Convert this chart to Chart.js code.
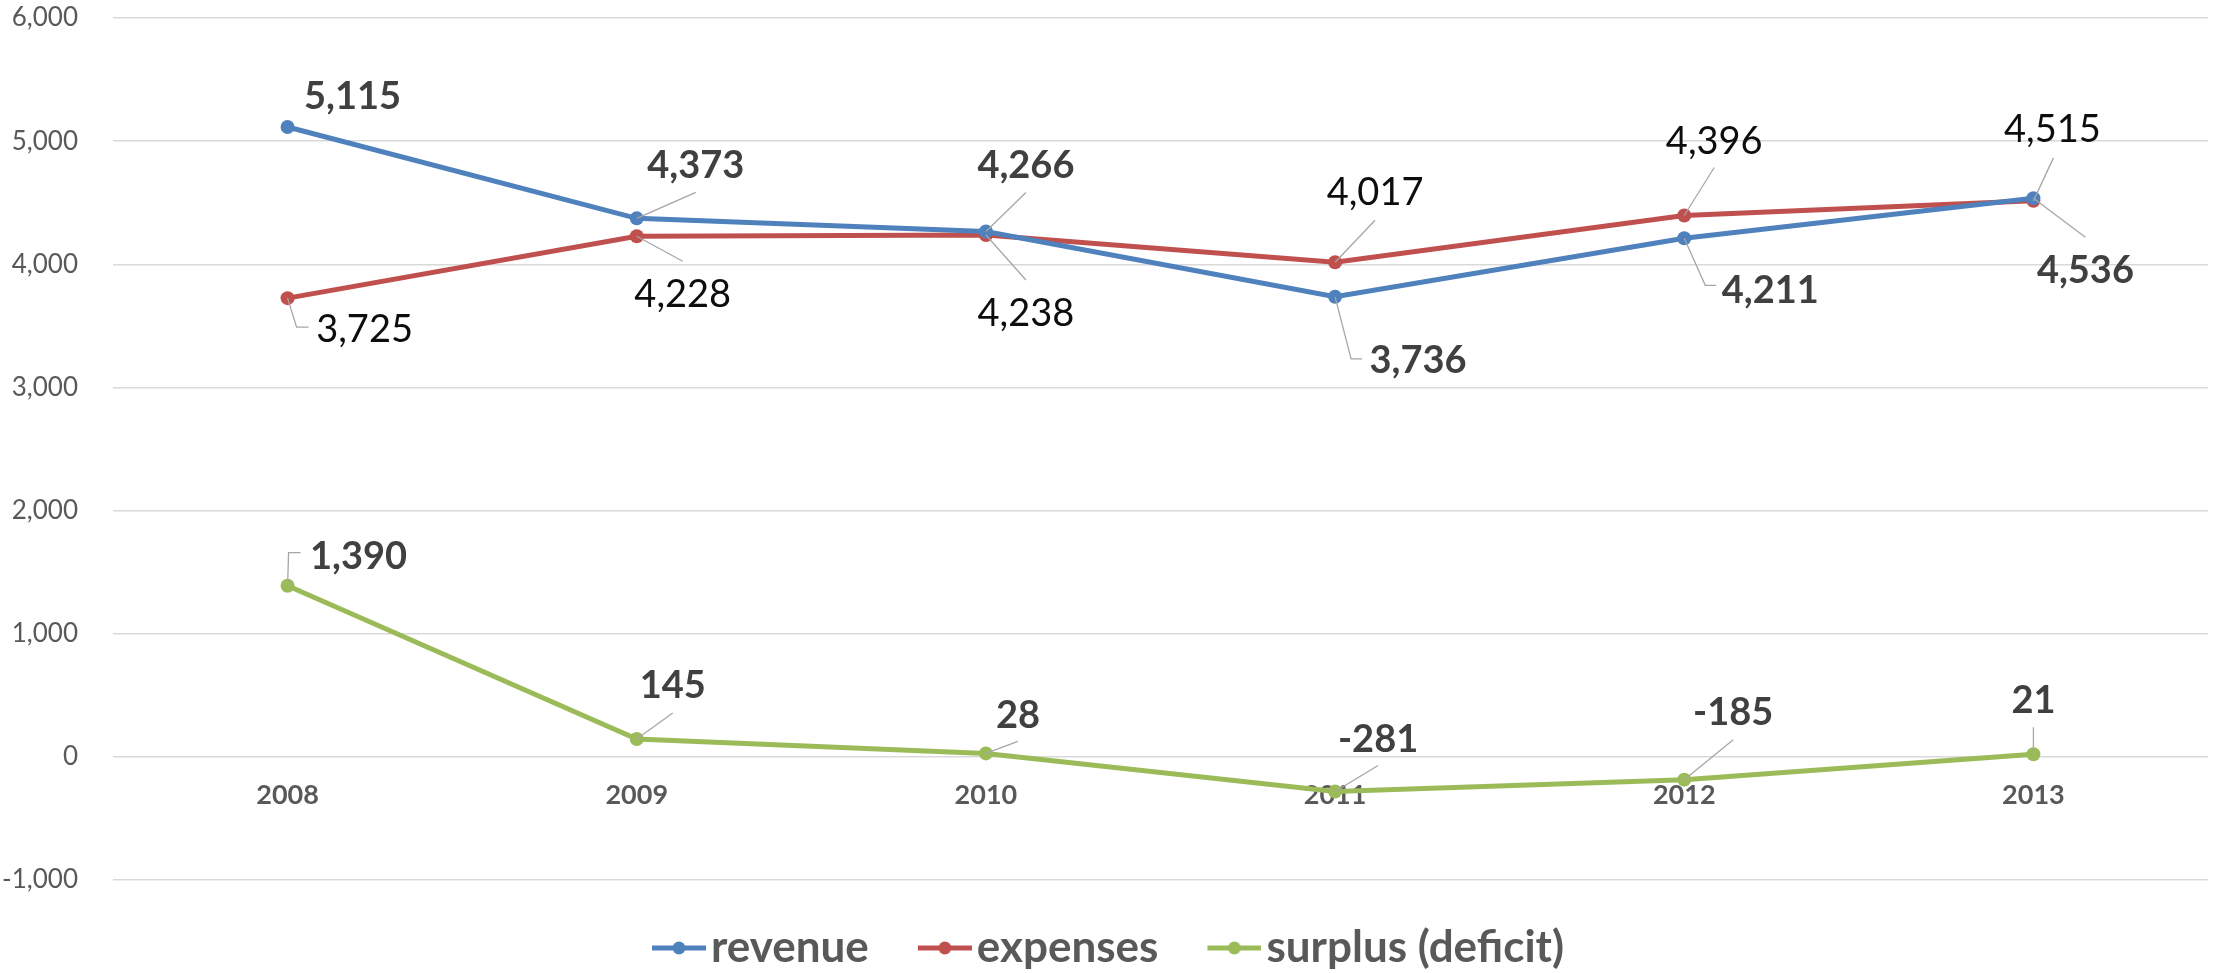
<!DOCTYPE html>
<html>
<head>
<meta charset="utf-8">
<script src="https://cdn.jsdelivr.net/npm/chart.js@4"></script>
<style>
  html, body { margin: 0; padding: 0; background: #fff; }
  #wrap { width: 2215px; height: 973px; }
</style>
</head>
<body>
<div id="wrap"><canvas id="myChart"></canvas></div>
<script>
    // data
    var years = ['2008', '2009', '2010', '2011', '2012', '2013'];
    var revenue = [5115, 4373, 4266, 3736, 4211, 4536];
    var expenses = [3725, 4228, 4238, 4017, 4396, 4515];
    var surplus = [1390, 145, 28, -281, -185, 21];
    var seriesNames = ['revenue', 'expenses', 'surplus (deficit)'];
    var colors = ['#4F81BD', '#C0504D', '#9BBB59'];

    // label placement relative to each point: [dx, dy, leader path]
    var labelLayout = [
      [[65, -31], [59, -54, [[59, -26]]], [40, -67, [[40, -39]]], [83, 63, [[16, 62], [27, 62]]], [86, 51, [[21, 47], [32, 47]]], [52, 71, [[52, 39]]]],
      [[77, 30, [[9, 29], [21, 29]]], [46, 57, [[46, 25]]], [40, 78, [[40, 45]]], [40, -71, [[40, -42]]], [30, -75, [[30, -48]]], [19, -72, [[20, -43]]]],
      [[71, -30, [[1, -33], [13, -33]]], [36, -55, [[36, -26]]], [32, -39, [[32, -12]]], [43, -53, [[43, -26]]], [49, -68, [[49, -40]]], [0, -55, [[0, -27]]]]
    ];
    var labelBold = [true, false, true];

    function fmt(v) { return v.toLocaleString('en-US'); }

    // legend marker: short line with a dot
    function legendMarker(color) {
      var c = document.createElement('canvas');
      c.width = 74; c.height = 20;
      var g = c.getContext('2d');
      g.strokeStyle = color; g.lineWidth = 5;
      g.beginPath(); g.moveTo(20, 10); g.lineTo(74, 10); g.stroke();
      g.fillStyle = color;
      g.beginPath(); g.arc(47, 10, 6.5, 0, Math.PI * 2); g.fill();
      return c;
    }
    var markers = colors.map(legendMarker);

    var pointLabels = {
      id: 'pointLabels',
      afterDatasetsDraw: function(chart) {
        var ctx = chart.ctx;
        chart.data.datasets.forEach(function(ds, i) {
          var meta = chart.getDatasetMeta(i);
          meta.data.forEach(function(pt, j) {
            var lay = labelLayout[i][j];
            ctx.save();
            if (lay[2]) {
              ctx.strokeStyle = '#a6a6a6';
              ctx.lineWidth = 1.3;
              ctx.beginPath();
              ctx.moveTo(pt.x, pt.y);
              lay[2].forEach(function(p) { ctx.lineTo(pt.x + p[0], pt.y + p[1]); });
              ctx.stroke();
            }
            ctx.font = (labelBold[i] ? 'bold ' : '') + '38px Lato';
            ctx.fillStyle = labelBold[i] ? '#404040' : '#0d0d0d';
            ctx.textAlign = 'center';
            ctx.textBaseline = 'alphabetic';
            ctx.fillText(fmt(ds.data[j]), pt.x + lay[0], pt.y + lay[1] + 13.5);
            ctx.restore();
          });
        });
      }
    };

    var ctx = document.getElementById('myChart').getContext('2d');
    var chart = new Chart(ctx, {
        type: 'line',
        data: {
            labels: years,
            datasets: [revenue, expenses, surplus].map(function(d, i) {
              return {
                label: seriesNames[i],
                data: d,
                borderColor: colors[i],
                backgroundColor: colors[i],
                pointBackgroundColor: colors[i],
                pointBorderWidth: 0,
                pointRadius: 7,
                borderWidth: 5,
                tension: 0,
                fill: false
              };
            })
        },
        options: {
          responsive: true,
          maintainAspectRatio: false,
          animation: false,
          layout: { padding: { top: 18, right: 2, bottom: -7, left: 0 } },
          plugins: {
            tooltip: { enabled: false },
            legend: {
              display: true,
              position: 'bottom',
              labels: {
                usePointStyle: true,
                pointStyleWidth: 40,
                padding: 46,
                color: '#595959',
                font: { family: 'Lato', size: 44, weight: 'bold' },
                generateLabels: function(chart) {
                  var items = Chart.defaults.plugins.legend.labels.generateLabels(chart);
                  items.forEach(function(it, k) { it.pointStyle = markers[k]; });
                  return items;
                }
              }
            }
          },
          scales: {
            x: {
              position: { y: 0 },
              offset: true,
              grid: { display: false, drawTicks: false },
              border: { display: false },
              ticks: {
                padding: 22,
                color: '#595959',
                font: { family: 'Lato', size: 27, weight: 'bold' }
              }
            },
            y: {
              min: -1000,
              max: 6000,
              afterFit: function(scale) {
                scale.width = 113;
                scale.paddingTop = 14;
                scale.paddingBottom = 14;
              },
              grid: { color: '#d9d9d9', lineWidth: 1.5, drawTicks: false },
              border: { display: false },
              ticks: {
                stepSize: 1000,
                padding: 35,
                color: '#595959',
                font: { family: 'Lato', size: 26 },
                callback: function(v) { return fmt(v); }
              }
            }
          }
        },
        plugins: [pointLabels]
    });
</script>
</body>
</html>
